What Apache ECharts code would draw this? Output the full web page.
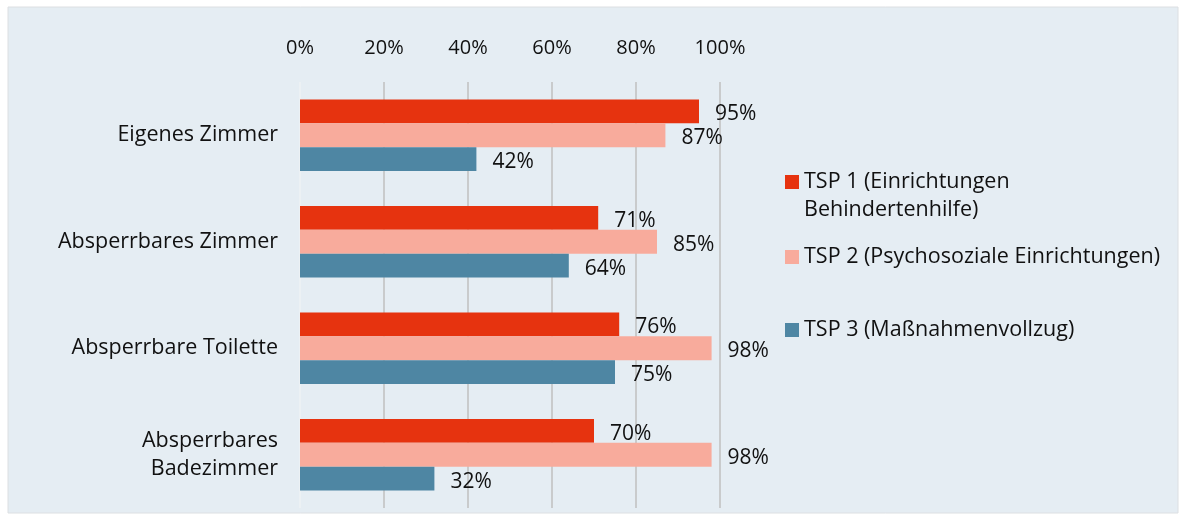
<!DOCTYPE html>
<html>
<head>
<meta charset="utf-8">
<script src="https://cdn.jsdelivr.net/npm/echarts@6/dist/echarts.min.js"></script>
<style>
  html, body { margin: 0; padding: 0; background: #fff; }
  #bar { width: 1184px; height: 515px; }
</style>
</head>
<body>
<div id="bar"></div>
<script>
// Kategorien und Werte (in %)
var categories = ["Eigenes Zimmer", "Absperrbares Zimmer", "Absperrbare Toilette", "Absperrbares\nBadezimmer"];
var seriesNames = ["TSP 1 (Einrichtungen\nBehindertenhilfe)", "TSP 2 (Psychosoziale Einrichtungen)", "TSP 3 (Maßnahmenvollzug)"];
var tsp1 = [95, 71, 76, 70];
var tsp2 = [87, 85, 98, 98];
var tsp3 = [42, 64, 75, 32];
var xTicks = [0, 20, 40, 60, 80, 100];

var colors = ["#e6330f", "#f8ab9c", "#4e86a3"];
var fontName = "'Open Sans', 'Noto Sans', sans-serif";

var myChart = echarts.init(document.getElementById("bar"));

function makeSeries(name, data, color) {
  return {
    name: name,
    type: "bar",
    data: data,
    barGap: "0%",
    barCategoryGap: "33%",
    itemStyle: { color: color },
    label: {
      show: true,
      position: "right",
      distance: 16,
      offset: [0, 3],
      formatter: "{c}%",
      fontFamily: fontName,
      fontSize: 21,
      color: "#111"
    }
  };
}

function makeLegend(name, top, icon, itemHeight) {
  return {
    data: [{ name: name, icon: icon }],
    orient: "vertical",
    left: 785,
    top: top,
    padding: 0,
    itemWidth: 14,
    itemHeight: itemHeight,
    itemGap: 0,
    selectedMode: false,
    textStyle: {
      fontFamily: fontName,
      fontSize: 21.5,
      color: "#111",
      lineHeight: 28
    }
  };
}

var option = {
  backgroundColor: "#fff",
  animation: false,
  graphic: [
    {
      type: "rect",
      z: -10,
      silent: true,
      shape: { x: 8, y: 7, width: 1170, height: 506 },
      style: { fill: "#e5edf3", stroke: "#dcdfe2", lineWidth: 1 }
    }
  ],
  legend: [
    // Quadrat oben in einer hohen Form, damit es auf der ersten Zeile sitzt
    makeLegend(seriesNames[0], 168, "path://M0 0h14v14H0z M0 41.99h14v0.01H0z", 42),
    makeLegend(seriesNames[1], 243, "rect", 14),
    makeLegend(seriesNames[2], 316, "rect", 14)
  ],
  grid: { left: 300, right: 464, top: 82, bottom: 7, containLabel: false },
  xAxis: {
    type: "value",
    position: "top",
    min: 0,
    max: 100,
    interval: 20,
    axisLine: { show: false },
    axisTick: { show: false },
    splitLine: {
      lineStyle: { color: ["#eef2f5", "#bfbfbf", "#bfbfbf", "#bfbfbf", "#bfbfbf", "#bfbfbf"], width: 1.5 }
    },
    axisLabel: {
      margin: 24,
      formatter: function (v) { return xTicks.indexOf(v) >= 0 ? v + "%" : ""; },
      fontFamily: fontName,
      fontSize: 20,
      color: "#111"
    }
  },
  yAxis: {
    type: "category",
    inverse: true,
    data: categories,
    axisLine: { show: false },
    axisTick: { show: false },
    axisLabel: {
      margin: 22,
      fontFamily: fontName,
      fontSize: 21.5,
      lineHeight: 28,
      color: "#111"
    }
  },
  series: [
    makeSeries(seriesNames[0], tsp1, colors[0]),
    makeSeries(seriesNames[1], tsp2, colors[1]),
    makeSeries(seriesNames[2], tsp3, colors[2])
  ]
};

myChart.setOption(option);
</script>
</body>
</html>
